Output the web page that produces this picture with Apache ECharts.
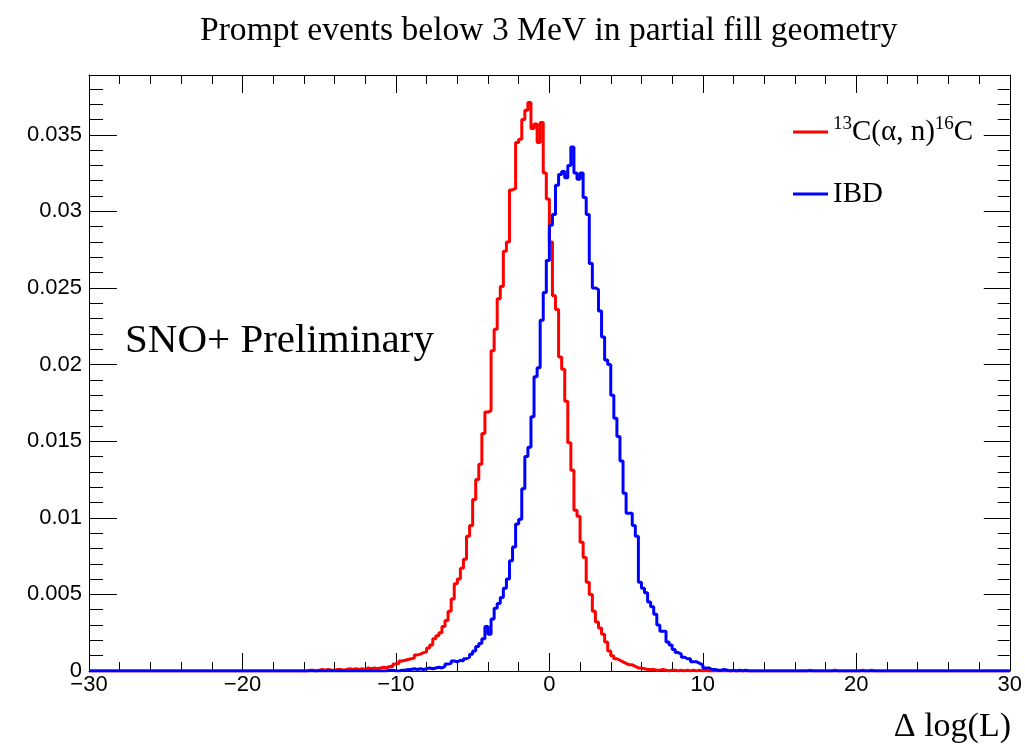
<!DOCTYPE html>
<html><head><meta charset="utf-8">
<script src="https://cdn.jsdelivr.net/npm/echarts/dist/echarts.min.js"></script>
<style>html,body{margin:0;padding:0;background:#fff}#c{width:1025px;height:744px}</style>
</head><body><div id="c"></div>
<script>
const titleText = 'Prompt events below 3 MeV in partial fill geometry';
const seriesNames = ['13C(α, n)16C', 'IBD'];
const xAxisTitle = 'Δ log(L)';
const watermark = 'SNO+ Preliminary';
const binWidth = 0.2;
const xMin = -30, xMax = 30;
const yMax = 0.0389;
const xTickValues = [-30, -20, -10, 0, 10, 20, 30];
const xTickLabels = ['\u221230', '\u221220', '\u221210', '0', '10', '20', '30'];
const yTickValues = [0, 0.005, 0.01, 0.015, 0.02, 0.025, 0.03, 0.035];
const yTickLabels = ['0', '0.005', '0.01', '0.015', '0.02', '0.025', '0.03', '0.035'];

// 13C(alpha,n)16C : bins of width 0.2 starting at -16.0
const redStart = -16.0;
const redValues = [
  0, 0.00005, 0.00005, 0, 0.00005, 0.0001, 0.00005, 0.0001, 0.00005, 0.00005,
  0.0001, 0.0001, 0.00005, 0.0001, 0.00015, 0.0001, 0.00015, 0.0001, 0.00015, 0.0001,
  0.0002, 0.00015, 0.0002, 0.00015, 0.0002, 0.00025, 0.0002, 0.0003, 0.0003, 0.00045,
  0.0005, 0.00065, 0.0007, 0.00075, 0.0008, 0.00085, 0.00105, 0.0011, 0.0012, 0.00125,
  0.0015, 0.0017, 0.0021, 0.0023, 0.0025, 0.0029, 0.0033, 0.0039, 0.0047, 0.0057,
  0.0060, 0.0067, 0.0073, 0.0088, 0.0095, 0.0112, 0.0125, 0.0135, 0.0155, 0.0169,
  0.0170, 0.0209, 0.0223, 0.0243, 0.0251, 0.0274, 0.0280, 0.0314, 0.0315, 0.0345,
  0.0347, 0.0360, 0.0366, 0.0371, 0.0354, 0.0357, 0.0345, 0.0358, 0.0325, 0.0308,
  0.0280, 0.0245, 0.0236, 0.0205, 0.0197, 0.0176, 0.0149, 0.0131, 0.0105, 0.0101,
  0.0084, 0.0074, 0.0058, 0.0050, 0.0039, 0.0032, 0.0028, 0.0024, 0.0019, 0.0013,
  0.0010, 0.0008, 0.0007, 0.0006, 0.0005, 0.0004, 0.0004, 0.0003, 0.0002, 0.0002,
  0.00015, 0.0001, 0.0001, 0.0001, 0.00005, 0.00005, 0.0001, 0.00005, 0, 0.00005,
  0.00005, 0, 0.00005, 0, 0.00005, 0, 0.00005, 0, 0.00005, 0, 0.00005
];
const redSparse = [[16.8, 0.00005], [18.4, 0.00005], [20.2, 0.00005], [20.8, 0.00005]];

// IBD : bins of width 0.2 starting at -11.0
const blueStart = -11.0;
const blueValues = [
  0, 0, 0.00005, 0.00005, 0, 0, 0.00005, 0.00005, 0.0001, 0.0001,
  0.00015, 0.0001, 0.00015, 0.0001, 0.00015, 0.0002, 0.00015, 0.0002, 0.00025, 0.0002,
  0.0003, 0.00045, 0.0005, 0.00065, 0.0006, 0.0007, 0.00065, 0.0008, 0.0009, 0.0011,
  0.0013, 0.0016, 0.0018, 0.0021, 0.0029, 0.0024, 0.0034, 0.0041, 0.0044, 0.0048,
  0.0054, 0.0060, 0.0072, 0.0081, 0.0096, 0.0099, 0.0119, 0.0140, 0.0146, 0.0166,
  0.0192, 0.0198, 0.0229, 0.0247, 0.0268, 0.0291, 0.0298, 0.0317, 0.0324, 0.0326,
  0.0322, 0.0330, 0.0342, 0.0325, 0.0321, 0.0325, 0.0309, 0.0298, 0.0266, 0.0250,
  0.0249, 0.0235, 0.0218, 0.0203, 0.0200, 0.0180, 0.0165, 0.0153, 0.0137, 0.0116,
  0.0103, 0.0103, 0.0095, 0.0088, 0.0058, 0.0054, 0.0051, 0.0045, 0.0042, 0.0037,
  0.0030, 0.0026, 0.0026, 0.0019, 0.0017, 0.0014, 0.0012, 0.0011, 0.0009, 0.0008,
  0.0008, 0.0006, 0.0006, 0.0005, 0.0004, 0.0002, 0.0002, 0.0001, 0.0001, 0.00005,
  0.00005, 0.0001, 0.00005, 0, 0.00005, 0, 0.00005, 0, 0.00005
];
const blueSparse = [];

function buildHist(start, values, sparse) {
  const n = Math.round((xMax - xMin) / binWidth);
  const arr = new Array(n).fill(0);
  const off = Math.round((start - xMin) / binWidth);
  values.forEach((v, i) => { arr[off + i] = v; });
  sparse.forEach(([x, v]) => { arr[Math.round((x - xMin) / binWidth)] = v; });
  const pts = arr.map((v, i) => [+(xMin + i * binWidth).toFixed(2), v]);
  pts.push([xMax, arr[n - 1]]);
  return pts;
}

const chart = echarts.init(document.getElementById('c'), null, {renderer: 'canvas'});
const serif = 'Liberation Serif';
const sans = 'Liberation Sans';
const axisLineStyle = {color: '#000', width: 1};

function yAxisCfg(pos, interval, len, labels, line) {
  return {
    type: 'value', position: pos, min: 0, max: yMax, interval: interval,
    axisLine: {show: line, onZero: false, lineStyle: axisLineStyle},
    axisTick: {show: true, inside: true, length: len, lineStyle: axisLineStyle},
    axisLabel: labels ? {
      show: true, margin: 7, color: '#000', fontFamily: sans, fontSize: 22,
      showMaxLabel: false,
      formatter: v => { const k = yTickValues.findIndex(t => Math.abs(t - v) < 1e-9); return k >= 0 ? yTickLabels[k] : ''; }
    } : {show: false},
    splitLine: {show: false}
  };
}
function xAxisCfg(pos, labels) {
  return {
    type: 'value', position: pos, min: xMin, max: xMax, interval: 10,
    axisLine: {show: true, onZero: false, lineStyle: axisLineStyle},
    axisTick: {show: true, inside: true, length: 18, lineStyle: axisLineStyle},
    minorTick: {show: true, splitNumber: 5, length: 9, lineStyle: axisLineStyle},
    axisLabel: labels ? {
      show: true, margin: 3, color: '#000', fontFamily: sans, fontSize: 22,
      formatter: v => { const k = xTickValues.indexOf(v); return k >= 0 ? xTickLabels[k] : ''; }
    } : {show: false},
    splitLine: {show: false}
  };
}

chart.setOption({
  animation: false,
  backgroundColor: '#fff',
  title: {
    text: titleText, left: 195, top: 9,
    textStyle: {fontFamily: serif, fontSize: 33.6, fontWeight: 'normal', color: '#000'}
  },
  grid: {left: 89, right: 14, top: 75, bottom: 73, containLabel: false},
  legend: {
    orient: 'vertical', left: 788, top: 110, itemWidth: 35, itemHeight: 3, itemGap: 28,
    icon: 'rect', data: seriesNames,
    formatter: name => name === seriesNames[0] ? '{s|13}C(α, n){s|16}C' : name,
    textStyle: {
      fontFamily: serif, fontSize: 29, color: '#000', lineHeight: 34,
      rich: {s: {fontFamily: serif, fontSize: 19, color: '#000', verticalAlign: 'top', lineHeight: 20}}
    }
  },
  xAxis: [xAxisCfg('bottom', true), xAxisCfg('top', false)],
  yAxis: [
    yAxisCfg('left', 0.005, 28, true, true),
    yAxisCfg('left', 0.001, 14, false, false),
    yAxisCfg('right', 0.005, 26, false, true),
    yAxisCfg('right', 0.001, 12, false, false)
  ],
  graphic: [
    {type: 'text', x: 125, y: 341, style: {text: watermark, fill: '#000', font: '41px "Liberation Serif"', verticalAlign: 'middle', align: 'left'}},
    {type: 'text', x: 1011, y: 727, style: {text: xAxisTitle, fill: '#000', font: '34px "Liberation Serif"', verticalAlign: 'middle', align: 'right'}}
  ],
  series: [
    {name: seriesNames[0], type: 'line', step: 'end', showSymbol: false, xAxisIndex: 0, yAxisIndex: 0,
     data: buildHist(redStart, redValues, redSparse), lineStyle: {color: '#ff0000', width: 3}, itemStyle: {color: '#ff0000'}},
    {name: seriesNames[1], type: 'line', step: 'end', showSymbol: false, xAxisIndex: 0, yAxisIndex: 0,
     data: buildHist(blueStart, blueValues, blueSparse), lineStyle: {color: '#0000ff', width: 3}, itemStyle: {color: '#0000ff'}}
  ]
});
</script></body></html>
